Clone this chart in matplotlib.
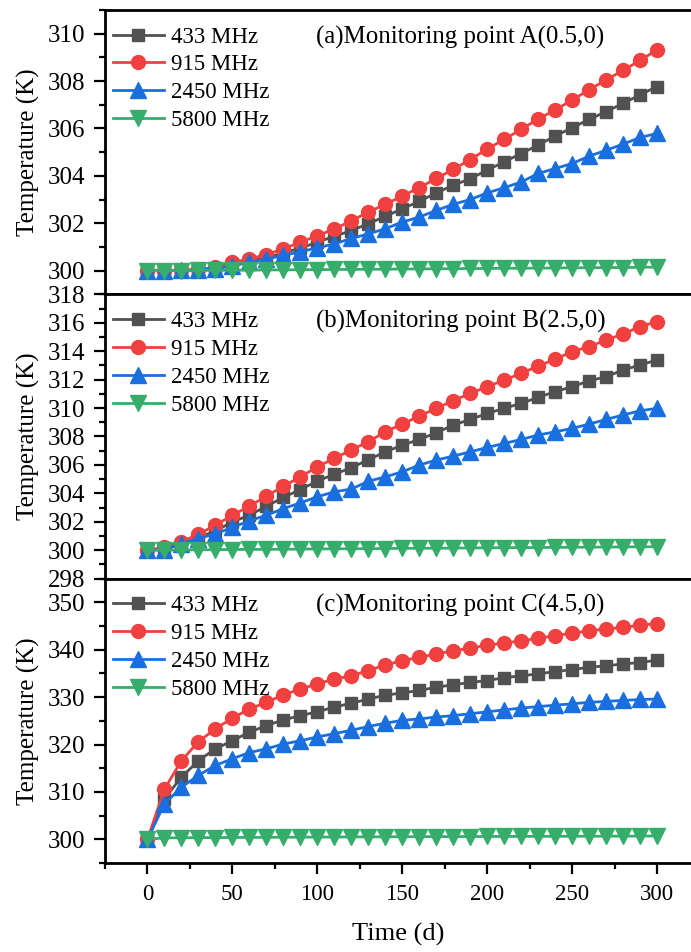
import numpy as np
import matplotlib
matplotlib.use('Agg')
import matplotlib.pyplot as plt
from matplotlib.ticker import MultipleLocator

plt.rcParams['font.family'] = ['Liberation Serif', 'DejaVu Serif']

# time axis (days)
time_d = np.arange(0, 301, 10)
freq_labels = ['433 MHz', '915 MHz', '2450 MHz', '5800 MHz']

# (a) monitoring point A(0.5,0)
a_433 = [300.0, 300.0, 300.01, 300.03, 300.08, 300.3, 300.4, 300.55, 300.75, 300.95,
         301.2, 301.45, 301.69, 301.98, 302.29, 302.61, 302.92, 303.28, 303.6, 303.88,
         304.24, 304.59, 304.94, 305.3, 305.68, 306.03, 306.38, 306.71, 307.06, 307.42, 307.77]
a_915 = [300.0, 300.0, 300.01, 300.05, 300.14, 300.35, 300.49, 300.68, 300.92, 301.2,
         301.47, 301.76, 302.1, 302.47, 302.8, 303.15, 303.5, 303.89, 304.27, 304.69,
         305.13, 305.54, 305.96, 306.4, 306.78, 307.2, 307.63, 308.05, 308.45, 308.87, 309.32]
a_2450 = [300.0, 300.0, 300.01, 300.03, 300.08, 300.2, 300.35, 300.49, 300.64, 300.8,
          300.96, 301.13, 301.36, 301.55, 301.77, 302.05, 302.26, 302.54, 302.8, 303.0,
          303.28, 303.5, 303.74, 304.1, 304.31, 304.52, 304.83, 305.08, 305.34, 305.62, 305.79]
a_5800 = [300.0, 300.0, 300.0, 300.01, 300.01, 300.02, 300.02, 300.03, 300.03, 300.04,
          300.04, 300.05, 300.05, 300.06, 300.06, 300.07, 300.07, 300.08, 300.08, 300.09,
          300.09, 300.1, 300.1, 300.11, 300.11, 300.12, 300.12, 300.13, 300.13, 300.14, 300.15]

# (b) monitoring point B(2.5,0)
b_433 = [300.0, 300.1, 300.4, 300.9, 301.35, 302.0, 302.46, 303.1, 303.71, 304.27,
         304.86, 305.35, 305.8, 306.36, 306.92, 307.39, 307.79, 308.26, 308.8, 309.2,
         309.62, 309.98, 310.33, 310.75, 311.15, 311.5, 311.92, 312.2, 312.68, 313.03, 313.38]
b_915 = [300.0, 300.2, 300.59, 301.13, 301.76, 302.46, 303.1, 303.8, 304.5, 305.16,
         305.87, 306.46, 307.06, 307.63, 308.33, 308.87, 309.44, 309.98, 310.52, 311.03,
         311.5, 311.97, 312.44, 312.96, 313.43, 313.97, 314.32, 314.79, 315.21, 315.73, 316.08]
b_2450 = [300.0, 300.05, 300.47, 300.82, 301.17, 301.6, 302.07, 302.46, 302.93, 303.33,
          303.76, 304.11, 304.3, 304.85, 305.16, 305.52, 305.99, 306.34, 306.62, 306.92,
          307.23, 307.51, 307.79, 308.1, 308.33, 308.57, 308.87, 309.2, 309.51, 309.81, 309.98]
b_5800 = [300.0, 300.01, 300.02, 300.03, 300.04, 300.05, 300.06, 300.06, 300.07, 300.08,
          300.09, 300.1, 300.1, 300.11, 300.12, 300.13, 300.14, 300.14, 300.15, 300.16,
          300.17, 300.18, 300.18, 300.19, 300.2, 300.21, 300.22, 300.22, 300.23, 300.24, 300.25]

# (c) monitoring point C(4.5,0)
c_433 = [300.0, 308.6, 313.1, 316.6, 319.1, 320.8, 322.6, 324.0, 325.2, 326.1,
         326.9, 327.9, 328.7, 329.6, 330.4, 330.9, 331.4, 332.1, 332.6, 333.1,
         333.5, 334.1, 334.5, 334.9, 335.4, 335.8, 336.3, 336.6, 337.0, 337.3, 337.8]
c_915 = [300.0, 310.6, 316.6, 320.6, 323.3, 325.6, 327.5, 328.9, 330.5, 331.7,
         332.8, 333.8, 334.5, 335.6, 336.8, 337.7, 338.4, 339.1, 339.8, 340.3,
         341.0, 341.4, 341.9, 342.4, 343.0, 343.5, 344.0, 344.4, 344.7, 345.2, 345.5]
c_2450 = [300.0, 307.5, 311.0, 313.5, 315.6, 317.0, 318.3, 319.1, 320.1, 320.8,
          321.6, 322.3, 323.0, 323.8, 324.5, 325.1, 325.4, 325.8, 326.1, 326.5,
          326.9, 327.3, 327.7, 328.0, 328.3, 328.6, 328.9, 329.1, 329.3, 329.5, 329.6]
c_5800 = [300.0, 300.3, 300.32, 300.34, 300.36, 300.38, 300.4, 300.42, 300.44, 300.45,
          300.47, 300.48, 300.5, 300.51, 300.52, 300.54, 300.55, 300.56, 300.57, 300.58,
          300.59, 300.6, 300.61, 300.62, 300.63, 300.64, 300.65, 300.66, 300.67, 300.68, 300.7]

panel_titles = ['(a)Monitoring point A(0.5,0)',
                '(b)Monitoring point B(2.5,0)',
                '(c)Monitoring point C(4.5,0)']

colors = ['#515151', '#F14040', '#1A6FDF', '#37AD6B']
markers = ['s', 'o', '^', 'v']
msizes = [9, 10, 11, 11]

panels = [
    ([a_433, a_915, a_2450, a_5800], (299, 311), 1, np.arange(300, 311, 2)),
    ([b_433, b_915, b_2450, b_5800], (298, 318), 1, np.arange(298, 319, 2)),
    ([c_433, c_915, c_2450, c_5800], (295, 355), 5, np.arange(300, 351, 10)),
]

fig = plt.figure(figsize=(6.91, 9.52), dpi=100)
gs = fig.add_gridspec(3, 1, left=0.152, right=1.0, top=0.9895, bottom=0.0935, hspace=0)

axes = []
for i, (series, ylim, minor, yt) in enumerate(panels):
    ax = fig.add_subplot(gs[i])
    axes.append(ax)
    for vals, lab, c, m, ms in zip(series, freq_labels, colors, markers, msizes):
        ax.plot(time_d, vals, color=c, marker=m, markersize=ms, linewidth=2,
                label=lab, clip_on=False)

    ax.set_xlim(-25, 320)
    ax.set_ylim(*ylim)
    ax.set_yticks(yt)
    ax.yaxis.set_minor_locator(MultipleLocator(minor))
    ax.set_xticks(np.arange(0, 301, 50))
    ax.xaxis.set_minor_locator(MultipleLocator(25))

    ax.tick_params(which='major', direction='out', length=8, width=1.6,
                   top=False, right=False)
    ax.tick_params(which='minor', direction='out', length=4.3, width=1.6,
                   top=False, right=False)
    ax.tick_params(axis='y', which='major', labelsize=18, pad=6)
    ax.tick_params(axis='x', which='major', labelsize=16.5, pad=7)
    for side in ['left', 'top', 'bottom']:
        ax.spines[side].set_linewidth(2)
    ax.spines['right'].set_visible(False)

    ax.set_ylabel('Temperature (K)', fontsize=18)
    ax.yaxis.set_label_coords(-0.111, 0.5)

    ax.text(0.36, 0.905, panel_titles[i], transform=ax.transAxes,
            fontsize=17.9, va='center', ha='left')

    ax.legend(loc='upper left', bbox_to_anchor=(0.014, 0.942), frameon=False,
              fontsize=16.5, handlelength=2.2, handletextpad=0.3,
              labelspacing=0.3, borderpad=0, borderaxespad=0)

    if i < 2:
        ax.tick_params(axis='x', which='both', labelbottom=False, bottom=False)

axes[-1].set_xlabel('Time (d)', fontsize=19, labelpad=13)

fig.savefig('out.png', dpi=100)
